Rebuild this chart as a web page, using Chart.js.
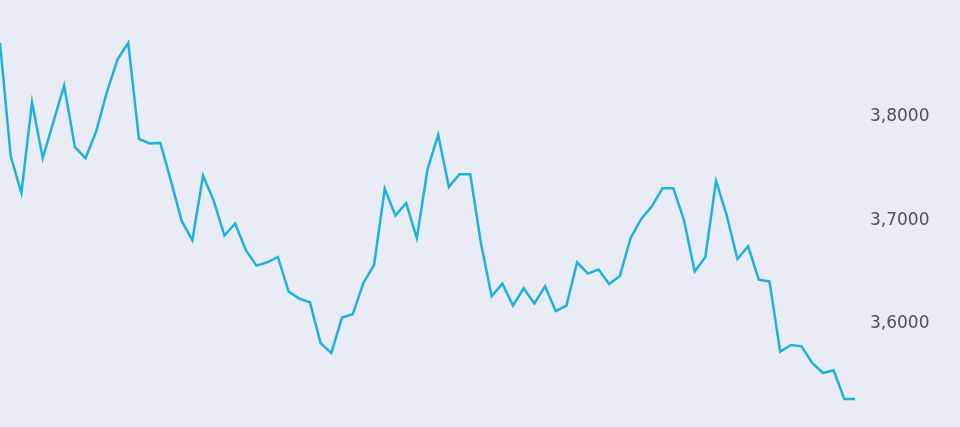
<!DOCTYPE html>
<html>
<head>
<meta charset="utf-8">
<script src="https://cdn.jsdelivr.net/npm/chart.js@4/dist/chart.umd.min.js"></script>
<style>
  html, body { margin: 0; padding: 0; background: #e9ecf4; }
  #wrap { width: 960px; height: 427px; position: relative; }
</style>
</head>
<body>
<div id="wrap"><canvas id="chart"></canvas></div>
<script>
  // values, one per step
  var VALUES = [
    3.8716, 3.7620, 3.7264, 3.8142, 3.7600, 3.7952, 3.8304, 3.7710, 3.7600, 3.7859,
    3.8239, 3.8556, 3.8716, 3.7787, 3.7742, 3.7748, 3.7378, 3.6993, 3.6806, 3.7433,
    3.7187, 3.6852, 3.6968, 3.6710, 3.6561, 3.6593, 3.6645, 3.6310, 3.6242, 3.6206,
    3.5812, 3.5715, 3.6058, 3.6090, 3.6393, 3.6567, 3.7303, 3.7045, 3.7167, 3.6826,
    3.7491, 3.7826, 3.7322, 3.7445, 3.7445, 3.6777, 3.6264, 3.6387, 3.6174, 3.6342,
    3.6194, 3.6361, 3.6122, 3.6174, 3.6593, 3.6484, 3.6523, 3.6383, 3.6461, 3.6826,
    3.7013, 3.7136, 3.7310, 3.7310, 3.7000, 3.6503, 3.6645, 3.7380, 3.7045, 3.6625,
    3.6748, 3.6426, 3.6407, 3.5729, 3.5793, 3.5780, 3.5619, 3.5522, 3.5548, 3.5270,
    3.5270
  ];
  var LABELS = VALUES.map(function (v, i) { return String(i + 1); });
  var Y_TICKS = [3.6, 3.7, 3.8];

  new Chart(document.getElementById('chart'), {
    type: 'line',
    data: {
      labels: LABELS,
      datasets: [
        {
          data: VALUES,
          borderColor: '#1fb1d9',
          borderWidth: 2.5,
          pointRadius: 0,
          tension: 0,
          fill: false,
        },
      ],
    },
    options: {
      responsive: true,
      maintainAspectRatio: false,
      animation: false,
      layout: { padding: 0 },
      plugins: {
        legend: { display: false },
        tooltip: { enabled: false },
      },
      scales: {
        x: {
          display: false,
        },
        y: {
          position: 'right',
          min: 3.5,
          max: 3.913,
          border: { display: false },
          grid: { display: false, drawTicks: false },
          afterBuildTicks: function (axis) {
            axis.ticks = Y_TICKS.map(function (v) { return { value: v }; });
          },
          afterFit: function (axis) {
            axis.width = 105;
            // labels sit well inside the range, no overhang padding needed
            axis.paddingTop = 0;
            axis.paddingBottom = 0;
          },
          ticks: {
            padding: 15,
            color: '#4a505c',
            font: { family: '"DejaVu Sans", sans-serif', size: 17 },
            callback: function (v) { return v.toFixed(4).replace('.', ','); },
          },
        },
      },
    },
  });
</script>
</body>
</html>
